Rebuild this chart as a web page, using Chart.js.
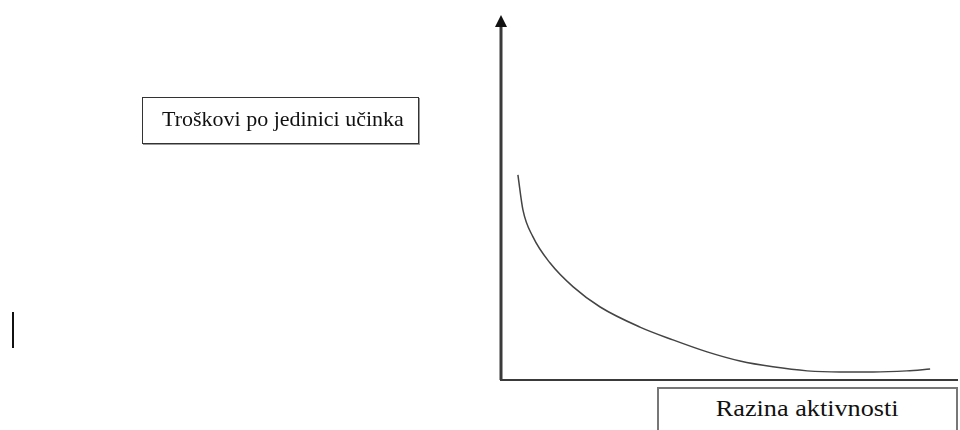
<!DOCTYPE html>
<html>
<head>
<meta charset="utf-8">
<script src="https://cdn.jsdelivr.net/npm/chart.js@4"></script>
<style>
  body { margin: 0; background: #fff; }
  #wrap { position: relative; width: 960px; height: 430px; overflow: hidden; }
  .box {
    position: absolute; background: #fff; box-sizing: border-box;
    font-family: "Liberation Serif", "Times New Roman", serif; color: #111;
  }
  #yBox { left: 142px; top: 97px; width: 277px; height: 47px; font-size: 22px;
    border: 1px solid #333; box-shadow: 1px 1px 0 #999; padding: 8px 0 0 19px; white-space: nowrap; }
  #xBox { left: 657px; top: 387px; width: 301px; height: 60px; font-size: 23px;
    border: 2px solid #777; text-align: center; padding-top: 7px; }
  #xBox span { display: inline-block; transform: scaleX(1.14); }
  #tick { position: absolute; left: 12px; top: 312px; width: 2px; height: 36px; background: #111; }
</style>
</head>
<body>
<div id="wrap">
  <canvas id="costChart" width="960" height="430"></canvas>
  <div class="box" id="yBox">Troškovi po jedinici učinka</div>
  <div class="box" id="xBox"><span>Razina aktivnosti</span></div>
  <div id="tick"></div>
</div>
<script>
// Razina aktivnosti (x) i troškovi po jedinici (y), očitano sa slike
var activity = [3.7, 4.8, 7.0, 10.7, 15.8, 21.7, 30.4, 37.6, 45.1, 52.3, 59.5, 67.0, 74.2, 81.4, 88.8, 93.9];
var unitCost = [56.2, 46.6, 39.2, 32.1, 25.5, 20.0, 14.5, 11.0, 7.7, 5.2, 3.6, 2.5, 2.2, 2.2, 2.5, 3.0];

var points = activity.map(function (x, i) { return { x: x, y: unitCost[i] }; });

// osi sa strelicom
var axesPlugin = {
    id: 'axes',
    afterDraw: function (chart) {
        var ctx = chart.ctx;
        var a = chart.chartArea;
        ctx.save();
        ctx.strokeStyle = '#3a3a3a';
        ctx.lineWidth = 3;
        ctx.beginPath();
        ctx.moveTo(a.left, a.bottom);
        ctx.lineTo(a.left, a.top + 10);
        ctx.stroke();
        ctx.lineWidth = 2;
        ctx.beginPath();
        ctx.moveTo(a.left - 1, a.bottom);
        ctx.lineTo(a.right, a.bottom);
        ctx.stroke();
        ctx.fillStyle = '#111';
        ctx.beginPath();
        ctx.moveTo(a.left, a.top);
        ctx.lineTo(a.left - 6, a.top + 12);
        ctx.lineTo(a.left + 6, a.top + 12);
        ctx.closePath();
        ctx.fill();
        ctx.restore();
    }
};

var ctx = document.getElementById('costChart').getContext('2d');
var costChart = new Chart(ctx, {
    type: 'line',
    data: {
        datasets: [{
            data: points,
            borderColor: '#444',
            borderWidth: 1.5,
            pointRadius: 0,
            fill: false,
            cubicInterpolationMode: 'monotone',
            clip: false
        }]
    },
    options: {
        responsive: false,
        animation: false,
        layout: { padding: { left: 501, right: 2, top: 15, bottom: 50 } },
        scales: {
            x: { type: 'linear', min: 0, max: 100, display: false },
            y: { min: 0, max: 100, display: false }
        },
        plugins: {
            legend: { display: false },
            tooltip: { enabled: false }
        }
    },
    plugins: [axesPlugin]
});
</script>
</body>
</html>
